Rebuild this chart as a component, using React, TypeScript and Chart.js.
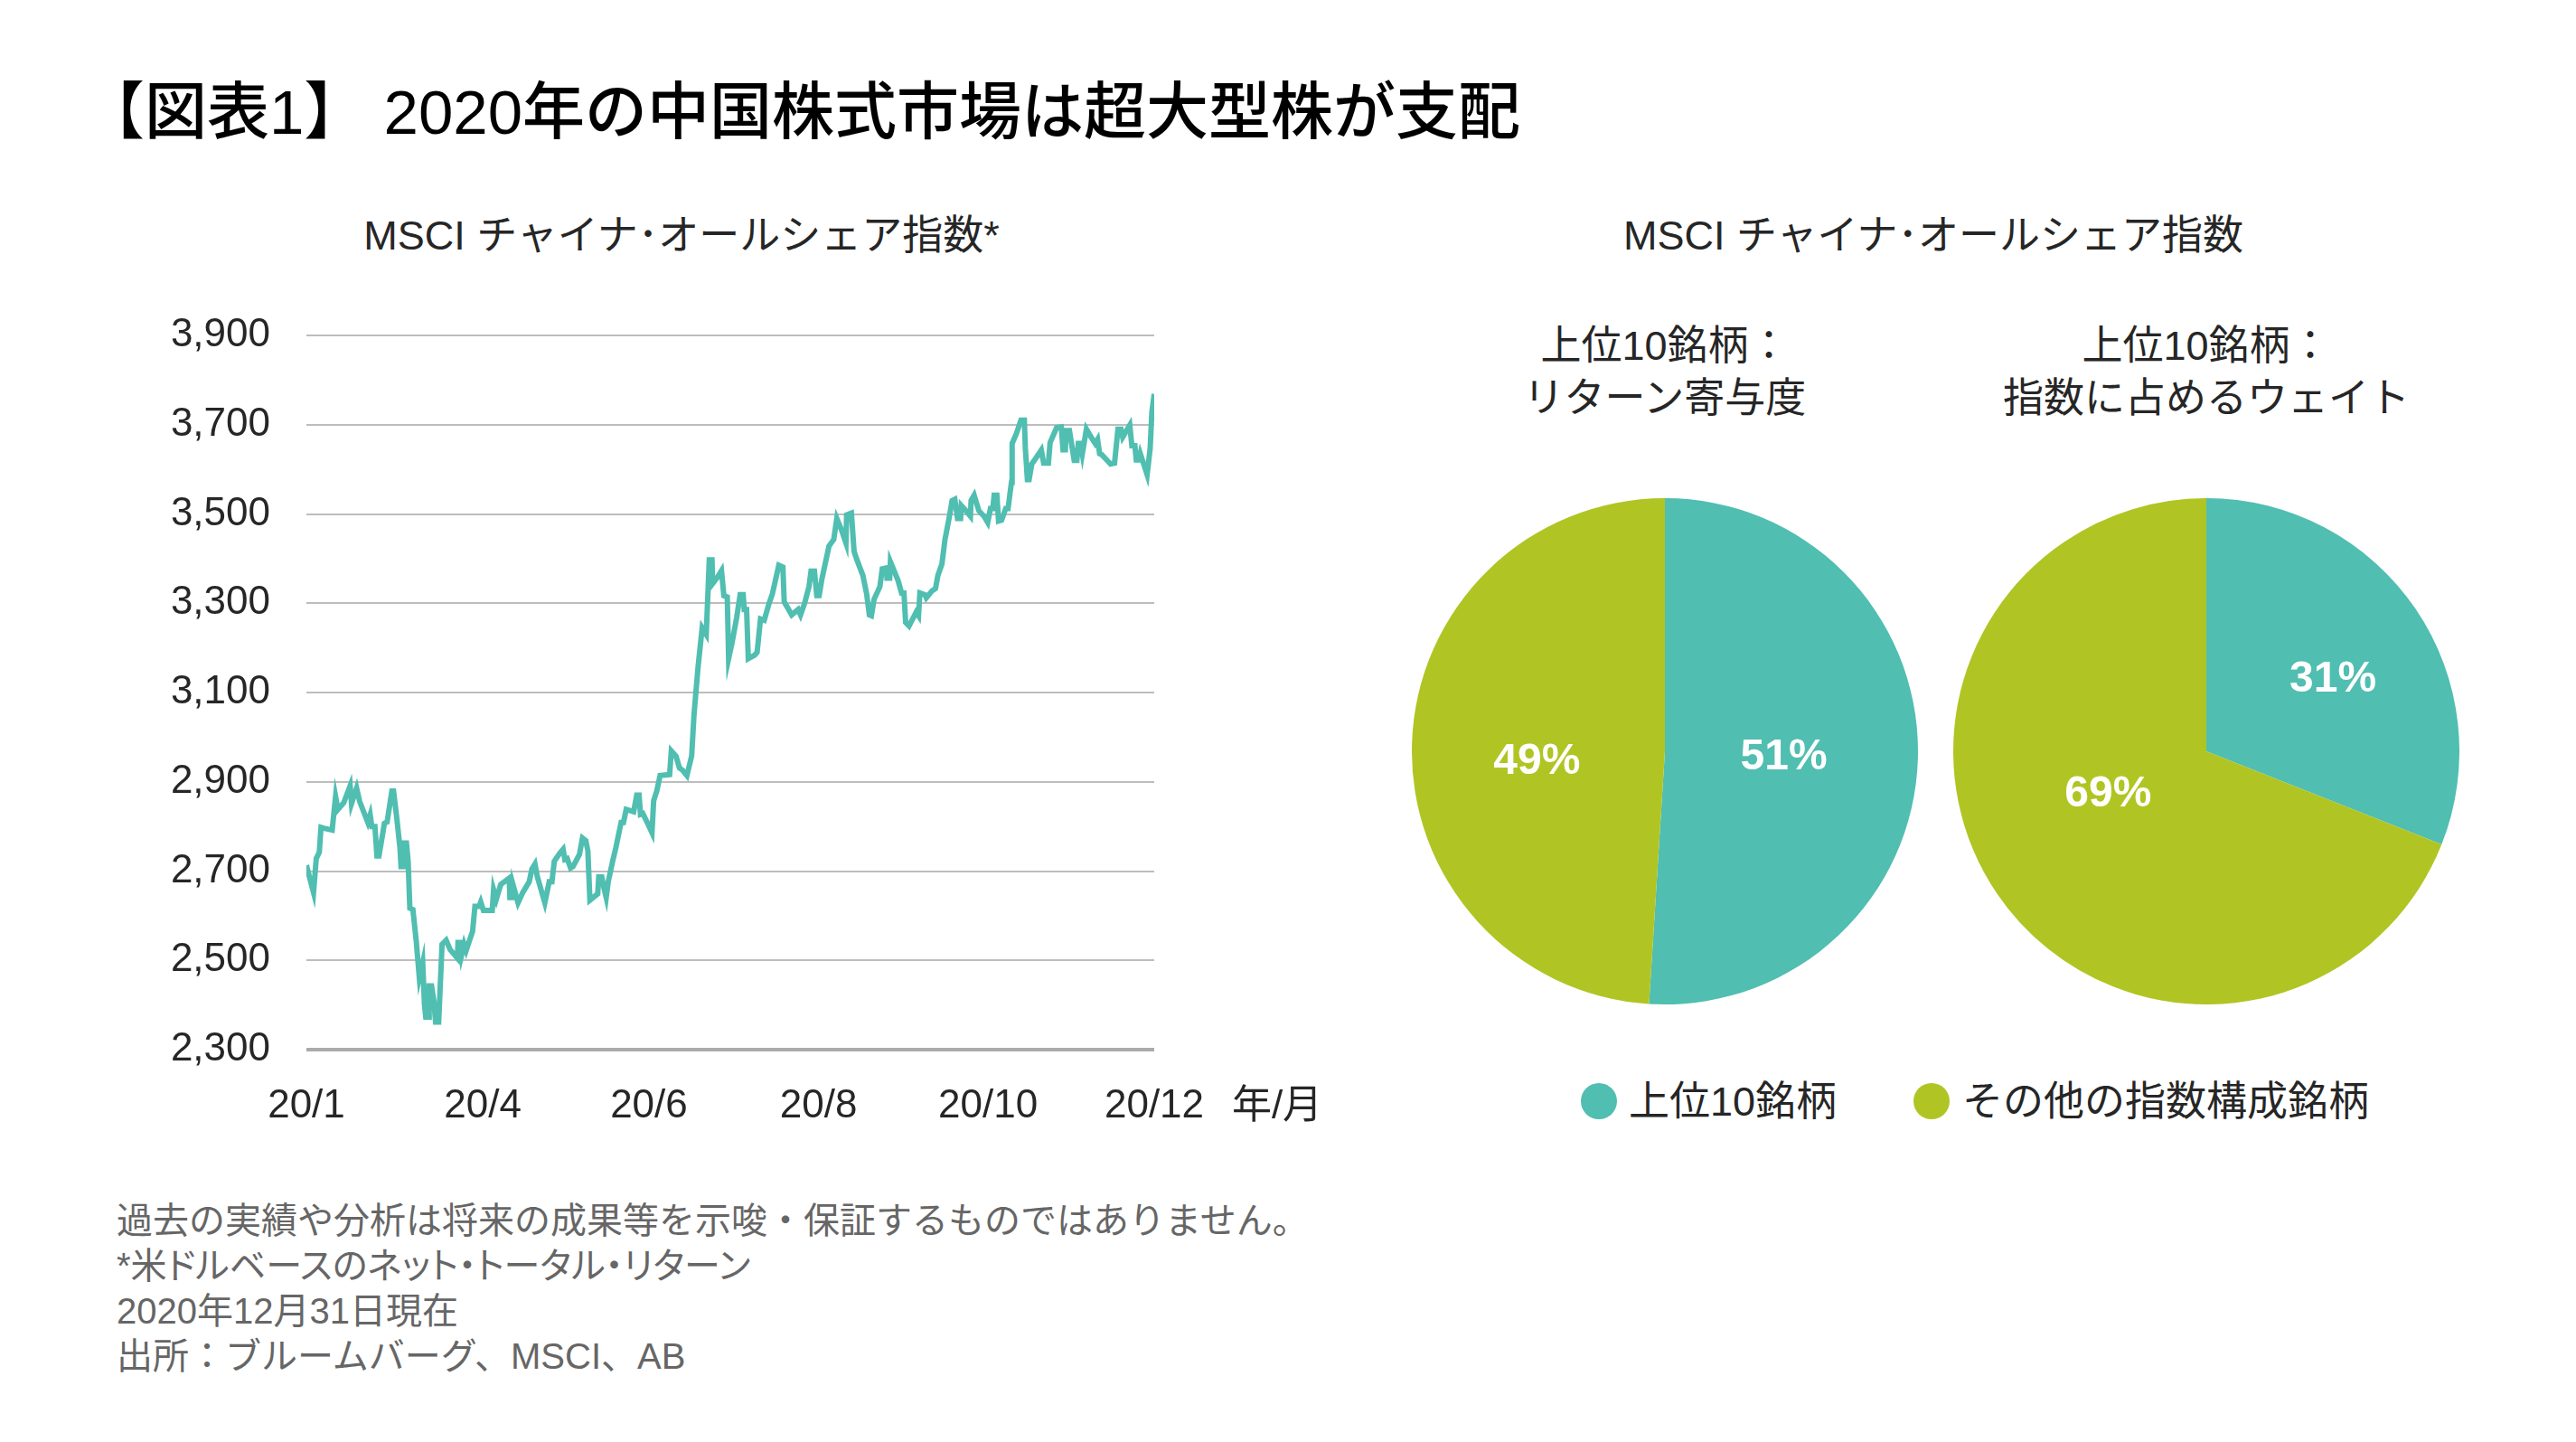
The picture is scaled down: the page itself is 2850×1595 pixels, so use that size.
import React, { useEffect, useRef } from "react";
import { Chart, registerables } from "chart.js";

Chart.register(...registerables);

// ---------- data ----------
const TEAL = "#50BEB0";
const GREEN = "#B0C523";

// position of each traced vertex along the axis (trading-day index, 0 = start of 2020)
const tradingDays = [
  0, 2.1, 2.9, 3.8, 4.3, 5.2, 7.6, 8.6, 9.3, 11.0, 12.9, 13.3, 14.8, 15.7, 18.1, 18.8, 19.3, 20.2, 20.8, 21.4,
  23.0, 23.8, 25.2, 25.7, 26.7, 27.6, 27.9, 28.6, 28.9, 29.5, 30.0, 30.5, 31.4, 32.4, 33.3, 34.3, 34.8, 35.2, 36.0, 36.2,
  36.9, 37.6, 38.1, 39.0, 40.0, 41.2, 42.4, 44.5, 44.7, 45.2, 45.7, 46.5, 47.1, 49.0, 49.7, 50.9, 51.4, 52.2, 54.8, 55.2,
  56.0, 57.3, 59.8, 60.0, 60.7, 60.9, 62.4, 63.8, 65.7, 66.5, 67.4, 68.1, 70.3, 71.6, 72.4, 73.1, 74.7, 75.7, 76.2, 76.9,
  77.9, 78.6, 80.5, 81.4, 82.4, 83.0, 83.6, 85.9, 86.2, 87.1, 87.6, 88.4, 89.0, 90.3, 91.2, 92.8, 93.5, 94.3, 95.7, 96.5,
  97.4, 98.1, 98.5, 99.2, 100.5, 101.9, 102.4, 103.3, 104.3, 107.1, 107.6, 109.0, 110.0, 110.9, 112.2, 113.6, 114.3, 115.5, 116.7, 117.9,
  118.8, 119.6, 119.8, 121.2, 122.4, 123.1, 124.1, 124.5, 125.5, 126.9, 127.9, 128.8, 129.1, 129.8, 130.3, 132.2, 132.9, 133.9, 135.0, 136.4,
  137.4, 139.3, 140.5, 140.9, 143.1, 145.0, 145.7, 146.9, 148.2, 148.8, 149.8, 150.5, 151.2, 152.0, 154.1, 155.5, 156.4, 157.7, 159.1, 159.3,
  160.7, 161.5, 162.2, 164.1, 165.2, 166.0, 166.6, 167.4, 169.1, 169.8, 171.0, 171.2, 172.0, 172.2, 173.6, 174.5, 175.5, 176.2, 176.7, 177.7,
  179.8, 180.5, 180.9, 182.4, 182.8, 184.5, 185.5, 186.2, 187.4, 188.3, 189.5, 190.4, 191.2, 192.0, 192.9, 193.1, 194.5, 195.8, 196.0, 196.9,
  198.3, 199.8, 200.9, 201.7, 202.4, 202.8, 203.6, 204.1, 205.0, 206.2, 206.9, 207.9, 208.1, 209.3, 210.7, 211.7, 212.0, 212.6, 213.1, 213.9,
  215.2, 216.7, 217.4, 218.8, 219.3, 221.2, 222.6, 223.1, 223.8, 224.0, 225.0, 226.4, 227.2, 227.6, 228.3, 228.8, 230.0, 231.4, 232.6, 233.3,
  233.9, 234.5, 236.0, 237.1, 238.3, 239.3, 240.2, 240.7, 242.8, 243.4, 244.3, 244.7, 245.5, 245.9, 247.9, 248.8, 249.3, 250.0,
];

// MSCI China All Shares index level
const indexLevels = [
  2713, 2652, 2728, 2742, 2798, 2796, 2792, 2867, 2838, 2853, 2891, 2851, 2886, 2856, 2809, 2826, 2800, 2800, 2734, 2734,
  2807, 2810, 2879, 2879, 2815, 2751, 2710, 2710, 2763, 2763, 2722, 2617, 2614, 2542, 2461, 2495, 2402, 2373, 2373, 2443,
  2443, 2408, 2362, 2362, 2536, 2545, 2524, 2505, 2540, 2540, 2510, 2536, 2522, 2565, 2621, 2621, 2631, 2612, 2612, 2658,
  2637, 2670, 2684, 2641, 2641, 2670, 2629, 2652, 2676, 2705, 2716, 2687, 2629, 2676, 2676, 2722, 2740, 2749, 2726, 2728,
  2707, 2710, 2737, 2774, 2768, 2745, 2635, 2649, 2687, 2687, 2667, 2641, 2676, 2722, 2751, 2809, 2809, 2838, 2835, 2833,
  2870, 2870, 2827, 2829, 2809, 2786, 2858, 2879, 2914, 2916, 2969, 2957, 2931, 2926, 2914, 2958, 3051, 3158, 3245, 3230,
  3397, 3397, 3344, 3358, 3373, 3317, 3314, 3176, 3211, 3269, 3319, 3319, 3286, 3286, 3176, 3184, 3190, 3265, 3262, 3299,
  3321, 3385, 3381, 3303, 3274, 3286, 3274, 3300, 3337, 3372, 3372, 3317, 3317, 3354, 3428, 3443, 3490, 3466, 3435, 3498,
  3502, 3416, 3400, 3362, 3321, 3274, 3272, 3309, 3337, 3377, 3379, 3356, 3356, 3393, 3367, 3350, 3323, 3323, 3257, 3249,
  3280, 3272, 3323, 3319, 3312, 3328, 3333, 3362, 3388, 3443, 3490, 3530, 3533, 3490, 3490, 3519, 3507, 3495, 3530, 3542,
  3507, 3495, 3481, 3512, 3512, 3542, 3542, 3484, 3486, 3512, 3512, 3571, 3658, 3679, 3710, 3710, 3647, 3577, 3577, 3612,
  3626, 3643, 3614, 3614, 3660, 3693, 3695, 3644, 3644, 3687, 3687, 3620, 3620, 3658, 3658, 3635, 3690, 3672, 3658, 3667,
  3635, 3633, 3621, 3612, 3614, 3690, 3690, 3672, 3699, 3653, 3653, 3621, 3621, 3635, 3588, 3647, 3728, 3769,
];

const xTickDays = [0, 52, 101, 151, 201, 250];
const xTickLabels = ["20/1", "20/4", "20/6", "20/8", "20/10", "20/12"];
const xAxisUnit = "年/月";
const yMin = 2300;
const yMax = 3900;
const yStep = 200;

const pieCategories = ["上位10銘柄", "その他の指数構成銘柄"];
const pieColors = [TEAL, GREEN];
const returnContribution = [51, 49];
const indexWeight = [31, 69];

const mainTitle = "【図表1】 2020年の中国株式市場は超大型株が支配";
const lineTitle = "MSCI チャイナ･オールシェア指数*";
const pieGroupTitle = "MSCI チャイナ･オールシェア指数";
const pieTitleLeft = ["上位10銘柄：", "リターン寄与度"];
const pieTitleRight = ["上位10銘柄：", "指数に占めるウェイト"];
const footnotes = [
  "過去の実績や分析は将来の成果等を示唆・保証するものではありません。",
  "*米ドルベースのネット・トータル・リターン",
  "2020年12月31日現在",
  "出所：ブルームバーグ、MSCI、AB",
];

// ---------- styles ----------
const FONT = "Arial, 'Liberation Sans', 'Noto Sans CJK JP', sans-serif";
const DARK = "#262626";

function LineChart() {
  const ref = useRef<HTMLCanvasElement | null>(null);
  useEffect(() => {
    if (!ref.current) return;
    const points = tradingDays.map((d, i) => ({ x: d, y: indexLevels[i] }));
    const chart = new Chart(ref.current, {
      type: "line",
      data: {
        datasets: [
          {
            data: points,
            borderColor: TEAL,
            borderWidth: 6,
            pointRadius: 0,
            tension: 0,
            fill: false,
          },
        ],
      },
      options: {
        responsive: false,
        maintainAspectRatio: false,
        animation: false,
        layout: { padding: { left: 0, top: 71, right: 100, bottom: 0 } },
        plugins: { legend: { display: false }, tooltip: { enabled: false } },
        scales: {
          x: {
            type: "linear",
            min: 0,
            max: 250,
            afterFit: (s: any) => {
              s.height = 99;
            },
            afterBuildTicks: (s: any) => {
              s.ticks = xTickDays.map((v) => ({ value: v }));
            },
            grid: { display: false, drawTicks: false },
            border: { display: false },
            ticks: {
              padding: 36,
              autoSkip: false,
              maxRotation: 0,
              color: DARK,
              font: { family: FONT, size: 44 },
              callback: (v: any) => {
                const i = xTickDays.indexOf(Number(v));
                return i >= 0 ? xTickLabels[i] : "";
              },
            },
          },
          y: {
            min: yMin,
            max: yMax,
            afterFit: (s: any) => {
              s.width = 239;
            },
            grid: {
              drawTicks: false,
              color: (c: any) => (c.tick && c.tick.value === yMin ? "#ABABAB" : "#BDBDBD"),
              lineWidth: (c: any) => (c.tick && c.tick.value === yMin ? 4 : 2),
            },
            border: { display: false },
            ticks: {
              stepSize: yStep,
              padding: 40,
              color: DARK,
              font: { family: FONT, size: 44 },
              callback: (v: any) => Number(v).toLocaleString("en-US"),
            },
          },
        },
      },
    });
    return () => chart.destroy();
  }, []);
  return (
    <canvas
      ref={ref}
      width={1277}
      height={960}
      style={{ position: "absolute", left: 100, top: 300, width: 1277, height: 960 }}
    />
  );
}

function PieChart(props: {
  values: number[];
  labelRadius: number[];
  labelAngleShift: number[];
  left: number;
  top: number;
}) {
  const ref = useRef<HTMLCanvasElement | null>(null);
  useEffect(() => {
    if (!ref.current) return;
    const labelPlugin = {
      id: "sliceLabels",
      afterDatasetsDraw(chart: any) {
        const ctx = chart.ctx;
        const meta = chart.getDatasetMeta(0);
        ctx.save();
        ctx.fillStyle = "#FFFFFF";
        ctx.font = "bold 48px " + FONT;
        ctx.textAlign = "center";
        ctx.textBaseline = "middle";
        meta.data.forEach((arc: any, i: number) => {
          const p = arc.getProps(["x", "y", "startAngle", "endAngle", "outerRadius"], true);
          const mid = (p.startAngle + p.endAngle) / 2 + (props.labelAngleShift[i] * Math.PI) / 180;
          const r = p.outerRadius * props.labelRadius[i];
          ctx.fillText(props.values[i] + "%", p.x + Math.cos(mid) * r, p.y + Math.sin(mid) * r + 3);
        });
        ctx.restore();
      },
    };
    const chart = new Chart(ref.current, {
      type: "pie",
      data: {
        labels: pieCategories,
        datasets: [{ data: props.values, backgroundColor: pieColors, borderWidth: 0 }],
      },
      options: {
        responsive: false,
        maintainAspectRatio: false,
        animation: false,
        layout: { padding: 0 },
        plugins: { legend: { display: false }, tooltip: { enabled: false } },
      },
      plugins: [labelPlugin],
    });
    return () => chart.destroy();
  }, []);
  return (
    <canvas
      ref={ref}
      width={560}
      height={560}
      style={{ position: "absolute", left: props.left, top: props.top, width: 560, height: 560 }}
    />
  );
}

function CText(props: { x: number; y: number; size: number; color?: string; weight?: number; children: any }) {
  return (
    <div
      style={{
        position: "absolute",
        left: props.x,
        top: props.y,
        transform: "translate(-50%, -50%)",
        whiteSpace: "nowrap",
        lineHeight: 1,
        fontSize: props.size,
        fontFamily: FONT,
        fontWeight: props.weight || 400,
        color: props.color || DARK,
      }}
    >
      {props.children}
    </div>
  );
}

function LText(props: {
  x: number;
  y: number;
  size: number;
  color?: string;
  weight?: number;
  palt?: boolean;
  children: any;
}) {
  return (
    <div
      style={{
        position: "absolute",
        left: props.x,
        top: props.y,
        transform: "translateY(-50%)",
        whiteSpace: "nowrap",
        lineHeight: 1,
        fontSize: props.size,
        fontFamily: FONT,
        fontWeight: props.weight || 400,
        fontFeatureSettings: props.palt ? '"palt"' : "normal",
        color: props.color || DARK,
      }}
    >
      {props.children}
    </div>
  );
}

export default function App() {
  return (
    <div
      style={{
        position: "absolute",
        left: 0,
        top: 0,
        width: 2850,
        height: 1595,
        background: "#FFFFFF",
        overflow: "hidden",
      }}
    >
      <LText x={91} y={124} size={69} color="#000000" weight={500}>
        {mainTitle}
      </LText>

      <CText x={754} y={260} size={45}>
        {lineTitle}
      </CText>
      <CText x={2139} y={260} size={45}>
        {pieGroupTitle}
      </CText>

      <LineChart />
      <CText x={1413} y={1222} size={44}>
        {xAxisUnit}
      </CText>

      <CText x={1842} y={382} size={45}>
        {pieTitleLeft[0]}
      </CText>
      <CText x={1842} y={440} size={45}>
        {pieTitleLeft[1]}
      </CText>
      <CText x={2441} y={382} size={45}>
        {pieTitleRight[0]}
      </CText>
      <CText x={2441} y={440} size={45}>
        {pieTitleRight[1]}
      </CText>

      <PieChart values={returnContribution} labelRadius={[0.47, 0.507]} labelAngleShift={[0, -5.4]} left={1562} top={551} />
      <PieChart values={indexWeight} labelRadius={[0.58, 0.42]} labelAngleShift={[3.8, 11.8]} left={2161} top={551} />

      {pieCategories.map((c, i) => (
        <React.Fragment key={c}>
          <div
            style={{
              position: "absolute",
              left: (i === 0 ? 1769 : 2137) - 20,
              top: 1218 - 20,
              width: 40,
              height: 40,
              borderRadius: "50%",
              background: pieColors[i],
            }}
          />
          <LText x={i === 0 ? 1802 : 2171} y={1218} size={45}>
            {c}
          </LText>
        </React.Fragment>
      ))}

      {footnotes.map((t, i) => (
        <LText key={i} x={129} y={1350 + i * 50} size={40} color="#666666" palt={i === 1}>
          {t}
        </LText>
      ))}
    </div>
  );
}
